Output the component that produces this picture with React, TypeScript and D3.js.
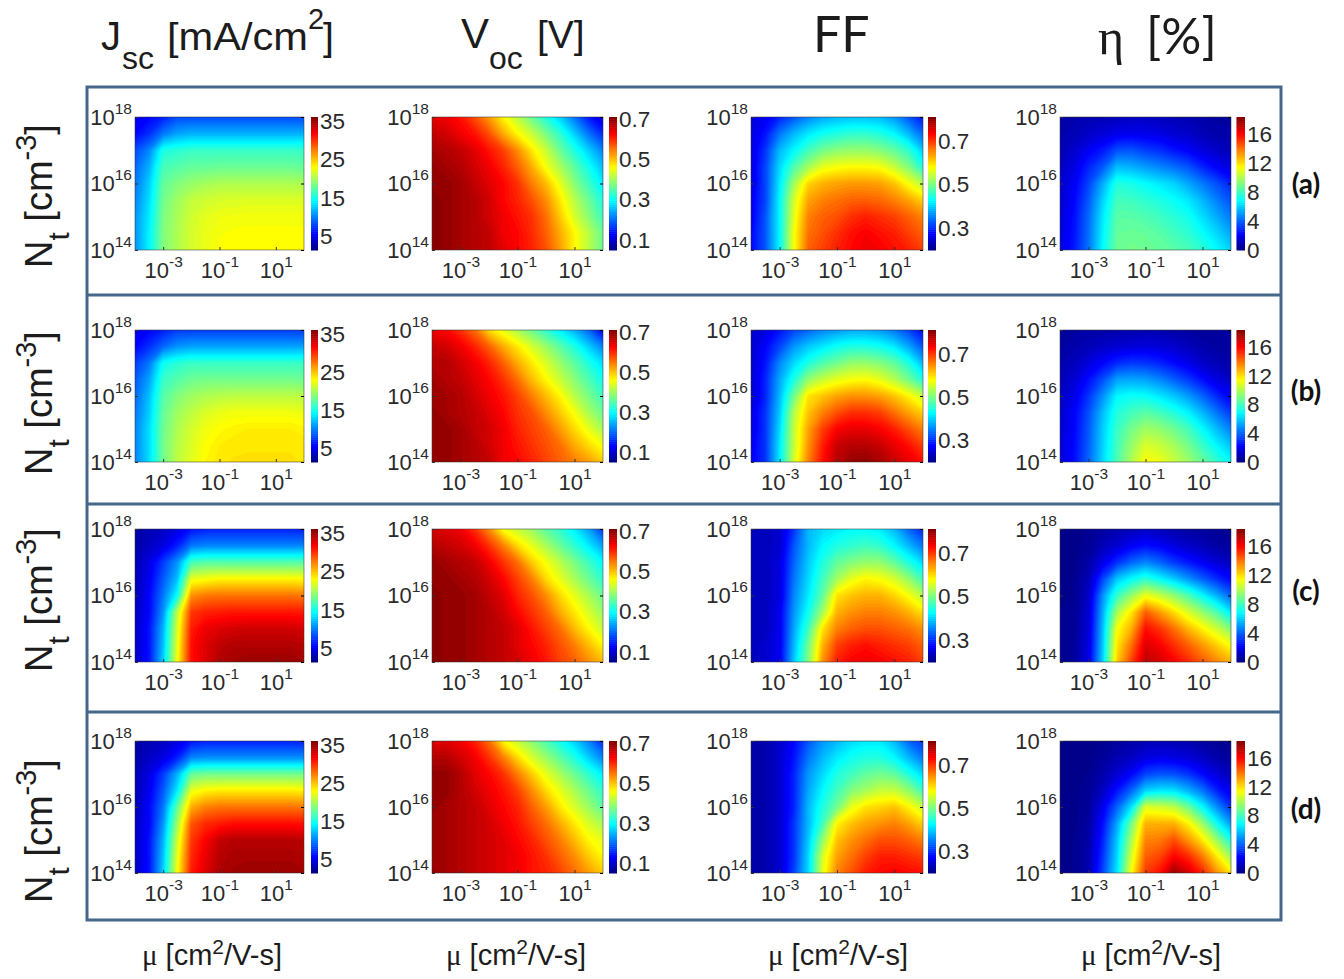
import React, { useEffect, useRef } from "react";
import * as d3 from "d3";

// rows run from Nt = 1e18 (top) to 1e14 (bottom), columns from mu = 1e-4 to 1e2 in half decades
const jscA = [
  [5.5, 6, 7, 8.5, 8.5, 8.5, 8.5, 8.5, 8.5, 8.5, 8.5, 8.5, 8.5],
  [6, 7.5, 10, 11.5, 12, 12, 12, 12, 12, 12, 12, 12, 12],
  [8.5, 10.5, 15.5, 16, 16.5, 16.5, 16.5, 16.5, 16.5, 16.5, 16.5, 16.5, 16.5],
  [9.5, 12, 17, 17.5, 18, 18, 18.2, 18.2, 18.2, 18.2, 18.2, 18.2, 18],
  [10, 13, 18, 19, 19.7, 20.2, 20.5, 20.5, 20.5, 20.5, 20.5, 20.5, 20.4],
  [10.5, 13.5, 18.5, 20, 21.2, 21.6, 21.9, 22, 22.1, 22.1, 22.1, 22.1, 22.1],
  [11, 14, 18.8, 20.3, 21.6, 22.3, 22.7, 22.8, 22.9, 22.9, 22.9, 22.9, 22.9],
  [11, 14.3, 19, 20.5, 21.8, 22.5, 23, 23.2, 23.2, 23.2, 23.2, 23.2, 23.2],
  [11, 14.3, 19, 20.5, 21.8, 22.5, 23.2, 23.3, 23.3, 23.3, 23.3, 23.3, 23.3],
];
const jscB = [
  [5.5, 6, 7, 8, 8, 8, 8, 8, 8, 8, 8, 8, 8],
  [6, 7.5, 9.5, 11, 11.5, 11.5, 11.5, 11.5, 11.5, 11.5, 11.5, 11.5, 11.5],
  [8, 10, 15, 16, 16.5, 16.5, 16.5, 16.5, 16.5, 16.5, 16.5, 16.5, 16.5],
  [9, 11.5, 16.5, 17.5, 18.3, 18.5, 18.5, 18.5, 18.5, 18.5, 18.5, 18.5, 18.3],
  [9.5, 12.5, 17.5, 19, 20, 20.5, 20.8, 21, 21, 21, 21, 21, 20.8],
  [10, 13, 18, 20, 21, 22, 22.5, 22.8, 22.8, 22.8, 22.8, 22.8, 22.6],
  [10.5, 13.5, 18.3, 20.5, 21.8, 22.8, 23.3, 23.6, 23.8, 23.8, 23.8, 23.8, 23.6],
  [10.5, 13.5, 18.5, 20.8, 22, 23.2, 23.8, 24, 24.1, 24.1, 24.1, 24.1, 24],
  [10.5, 13.5, 18.5, 21, 22.3, 23.4, 24, 24.2, 24.2, 24.2, 24.2, 24.2, 24.1],
];
const jscC = [
  [3, 3.5, 4, 5, 6.5, 7, 7, 7, 7, 7, 7, 7, 7],
  [3, 4, 5, 7, 10, 10.5, 10.5, 10.5, 10.5, 10.5, 10.5, 10.5, 10.5],
  [3.5, 5, 8, 11, 17, 17.5, 17.5, 17.5, 17.5, 17.5, 17.5, 17.5, 17.5],
  [3.5, 5.5, 9, 12.5, 22.5, 23, 23.5, 23.5, 23.5, 23.5, 23.5, 23.5, 23.3],
  [3.5, 6, 10, 15, 27, 27.8, 28, 28, 28, 28, 28, 28, 27.8],
  [4, 6, 11, 21, 30, 30.8, 31, 31.2, 31.2, 31.2, 31.2, 31.2, 31],
  [4, 6.5, 12, 22, 31, 32.5, 33, 33.3, 33.5, 33.5, 33.5, 33.5, 33.3],
  [4, 6.5, 12.5, 22.5, 31.5, 33, 34, 34.5, 34.5, 34.5, 34.5, 34.5, 34.3],
  [4, 6.5, 13, 23, 31.5, 33, 34.5, 35, 35.3, 35.3, 35.3, 35.3, 35],
];
const jscD = [
  [3, 3.5, 4, 5, 6.5, 7, 7, 7, 7, 7, 7, 7, 7],
  [3, 4, 5, 7, 10.5, 10.8, 10.8, 10.8, 10.8, 10.8, 10.8, 10.8, 10.8],
  [3.5, 5, 8, 12, 18, 18.5, 18.5, 18.5, 18.5, 18.5, 18.5, 18.5, 18.5],
  [3.5, 5.5, 9, 14, 22.5, 23.5, 23.8, 23.8, 23.8, 23.8, 23.8, 23.8, 23.6],
  [3.5, 6, 10, 18, 26, 27.5, 28, 28, 28, 28, 28, 28, 27.8],
  [4, 6, 11, 20, 29, 30.5, 31, 31.5, 31.5, 31.5, 31.5, 31.5, 31.3],
  [4, 6.5, 12, 21.5, 30, 32, 33.8, 34.3, 34.3, 34.3, 34.3, 34.3, 34.2],
  [4, 6.5, 12.5, 22.5, 30.5, 32.5, 34.3, 34.8, 34.8, 34.8, 34.8, 34.8, 34.6],
  [4, 6.5, 13, 23, 31, 33, 34.6, 35, 35.2, 35.2, 35.2, 35.2, 35],
];

const vocA = [
  [0.65, 0.64, 0.62, 0.58, 0.53, 0.47, 0.42, 0.37, 0.32, 0.27, 0.21, 0.15, 0.11],
  [0.67, 0.66, 0.64, 0.62, 0.58, 0.52, 0.47, 0.43, 0.38, 0.33, 0.27, 0.21, 0.16],
  [0.69, 0.68, 0.67, 0.65, 0.62, 0.59, 0.54, 0.48, 0.43, 0.37, 0.32, 0.27, 0.22],
  [0.7, 0.69, 0.68, 0.66, 0.64, 0.61, 0.57, 0.52, 0.46, 0.41, 0.36, 0.31, 0.26],
  [0.7, 0.7, 0.69, 0.67, 0.65, 0.63, 0.6, 0.55, 0.51, 0.45, 0.39, 0.34, 0.29],
  [0.71, 0.7, 0.69, 0.68, 0.66, 0.63, 0.61, 0.58, 0.54, 0.48, 0.42, 0.37, 0.32],
  [0.71, 0.7, 0.69, 0.68, 0.66, 0.64, 0.62, 0.6, 0.56, 0.5, 0.44, 0.39, 0.34],
  [0.71, 0.7, 0.69, 0.68, 0.67, 0.64, 0.63, 0.605, 0.57, 0.52, 0.47, 0.42, 0.37],
  [0.71, 0.7, 0.69, 0.68, 0.67, 0.65, 0.63, 0.61, 0.58, 0.53, 0.47, 0.42, 0.37],
];
const vocB = [
  [0.64, 0.63, 0.6, 0.56, 0.49, 0.45, 0.41, 0.37, 0.33, 0.29, 0.25, 0.2, 0.13],
  [0.67, 0.66, 0.64, 0.61, 0.57, 0.52, 0.48, 0.44, 0.4, 0.36, 0.32, 0.27, 0.22],
  [0.68, 0.68, 0.66, 0.64, 0.61, 0.57, 0.52, 0.48, 0.44, 0.4, 0.36, 0.32, 0.28],
  [0.69, 0.68, 0.67, 0.65, 0.63, 0.6, 0.56, 0.51, 0.47, 0.43, 0.39, 0.35, 0.31],
  [0.69, 0.69, 0.68, 0.66, 0.64, 0.62, 0.59, 0.55, 0.51, 0.47, 0.42, 0.38, 0.34],
  [0.7, 0.69, 0.68, 0.67, 0.65, 0.63, 0.6, 0.58, 0.54, 0.5, 0.46, 0.41, 0.37],
  [0.7, 0.7, 0.69, 0.67, 0.66, 0.64, 0.61, 0.59, 0.57, 0.53, 0.49, 0.45, 0.41],
  [0.7, 0.7, 0.69, 0.68, 0.66, 0.64, 0.62, 0.6, 0.58, 0.56, 0.52, 0.49, 0.46],
  [0.7, 0.7, 0.69, 0.68, 0.67, 0.64, 0.63, 0.61, 0.59, 0.57, 0.55, 0.53, 0.5],
];
const vocC = [
  [0.66, 0.65, 0.64, 0.6, 0.54, 0.46, 0.43, 0.4, 0.36, 0.33, 0.29, 0.24, 0.17],
  [0.68, 0.67, 0.66, 0.64, 0.6, 0.55, 0.49, 0.45, 0.41, 0.37, 0.33, 0.29, 0.24],
  [0.7, 0.69, 0.68, 0.67, 0.64, 0.6, 0.56, 0.5, 0.46, 0.42, 0.38, 0.34, 0.3],
  [0.7, 0.7, 0.69, 0.68, 0.66, 0.63, 0.59, 0.55, 0.49, 0.45, 0.41, 0.37, 0.33],
  [0.71, 0.7, 0.7, 0.69, 0.67, 0.65, 0.61, 0.58, 0.54, 0.49, 0.45, 0.41, 0.37],
  [0.71, 0.7, 0.7, 0.69, 0.68, 0.66, 0.63, 0.6, 0.57, 0.52, 0.48, 0.44, 0.4],
  [0.71, 0.7, 0.7, 0.69, 0.68, 0.67, 0.65, 0.62, 0.59, 0.56, 0.51, 0.47, 0.43],
  [0.71, 0.7, 0.7, 0.69, 0.68, 0.67, 0.65, 0.63, 0.61, 0.58, 0.55, 0.51, 0.47],
  [0.71, 0.7, 0.7, 0.69, 0.68, 0.67, 0.66, 0.64, 0.62, 0.59, 0.57, 0.54, 0.51],
];
const vocD = [
  [0.65, 0.65, 0.64, 0.61, 0.56, 0.47, 0.43, 0.39, 0.35, 0.31, 0.27, 0.22, 0.16],
  [0.68, 0.68, 0.66, 0.64, 0.6, 0.55, 0.49, 0.44, 0.4, 0.36, 0.32, 0.27, 0.22],
  [0.7, 0.7, 0.68, 0.65, 0.63, 0.6, 0.55, 0.5, 0.45, 0.41, 0.37, 0.33, 0.29],
  [0.7, 0.7, 0.68, 0.66, 0.64, 0.62, 0.59, 0.54, 0.49, 0.45, 0.41, 0.37, 0.33],
  [0.7, 0.69, 0.68, 0.67, 0.65, 0.63, 0.61, 0.57, 0.53, 0.48, 0.44, 0.4, 0.36],
  [0.69, 0.69, 0.68, 0.67, 0.66, 0.64, 0.62, 0.59, 0.56, 0.52, 0.48, 0.44, 0.41],
  [0.69, 0.69, 0.68, 0.67, 0.66, 0.65, 0.63, 0.61, 0.58, 0.55, 0.51, 0.47, 0.45],
  [0.69, 0.69, 0.68, 0.67, 0.66, 0.65, 0.64, 0.62, 0.6, 0.57, 0.54, 0.5, 0.47],
  [0.7, 0.69, 0.68, 0.67, 0.66, 0.65, 0.64, 0.62, 0.61, 0.59, 0.56, 0.53, 0.5],
];

const ffA = [
  [0.26, 0.27, 0.3, 0.33, 0.36, 0.38, 0.39, 0.395, 0.395, 0.39, 0.37, 0.33, 0.29],
  [0.26, 0.29, 0.35, 0.39, 0.42, 0.44, 0.45, 0.46, 0.46, 0.45, 0.43, 0.39, 0.34],
  [0.26, 0.31, 0.39, 0.43, 0.47, 0.5, 0.515, 0.52, 0.52, 0.51, 0.49, 0.46, 0.4],
  [0.26, 0.32, 0.41, 0.48, 0.53, 0.57, 0.58, 0.585, 0.585, 0.58, 0.55, 0.51, 0.45],
  [0.26, 0.32, 0.42, 0.53, 0.61, 0.63, 0.64, 0.645, 0.645, 0.64, 0.62, 0.58, 0.54],
  [0.27, 0.32, 0.43, 0.56, 0.64, 0.66, 0.67, 0.68, 0.68, 0.675, 0.66, 0.64, 0.61],
  [0.27, 0.33, 0.43, 0.57, 0.66, 0.68, 0.69, 0.71, 0.72, 0.71, 0.7, 0.68, 0.66],
  [0.28, 0.33, 0.43, 0.58, 0.67, 0.69, 0.71, 0.73, 0.74, 0.73, 0.72, 0.7, 0.68],
  [0.28, 0.33, 0.43, 0.58, 0.68, 0.7, 0.72, 0.735, 0.745, 0.74, 0.73, 0.72, 0.7],
];
const ffB = [
  [0.25, 0.26, 0.29, 0.32, 0.34, 0.36, 0.37, 0.38, 0.38, 0.37, 0.35, 0.32, 0.28],
  [0.25, 0.28, 0.32, 0.37, 0.4, 0.42, 0.44, 0.45, 0.45, 0.44, 0.42, 0.38, 0.33],
  [0.25, 0.29, 0.36, 0.41, 0.45, 0.48, 0.5, 0.52, 0.52, 0.51, 0.49, 0.45, 0.39],
  [0.25, 0.3, 0.38, 0.45, 0.52, 0.55, 0.57, 0.58, 0.585, 0.57, 0.54, 0.5, 0.45],
  [0.25, 0.3, 0.39, 0.5, 0.6, 0.62, 0.64, 0.65, 0.65, 0.64, 0.62, 0.59, 0.55],
  [0.26, 0.31, 0.4, 0.54, 0.62, 0.66, 0.69, 0.71, 0.71, 0.7, 0.67, 0.64, 0.61],
  [0.26, 0.31, 0.41, 0.55, 0.64, 0.7, 0.74, 0.75, 0.75, 0.74, 0.72, 0.69, 0.66],
  [0.27, 0.31, 0.42, 0.55, 0.65, 0.72, 0.77, 0.78, 0.78, 0.77, 0.75, 0.73, 0.7],
  [0.27, 0.31, 0.42, 0.56, 0.66, 0.73, 0.78, 0.8, 0.805, 0.79, 0.77, 0.75, 0.73],
];
const ffC = [
  [0.24, 0.24, 0.25, 0.31, 0.39, 0.41, 0.42, 0.43, 0.43, 0.42, 0.39, 0.34, 0.3],
  [0.24, 0.24, 0.25, 0.33, 0.39, 0.43, 0.45, 0.46, 0.47, 0.46, 0.43, 0.39, 0.35],
  [0.24, 0.24, 0.26, 0.34, 0.4, 0.45, 0.49, 0.51, 0.52, 0.52, 0.49, 0.45, 0.41],
  [0.24, 0.24, 0.26, 0.35, 0.41, 0.47, 0.53, 0.57, 0.59, 0.58, 0.56, 0.52, 0.47],
  [0.24, 0.24, 0.26, 0.36, 0.42, 0.49, 0.6, 0.62, 0.63, 0.63, 0.61, 0.58, 0.54],
  [0.24, 0.24, 0.27, 0.37, 0.44, 0.53, 0.63, 0.65, 0.66, 0.66, 0.65, 0.63, 0.6],
  [0.24, 0.24, 0.27, 0.38, 0.47, 0.6, 0.66, 0.68, 0.69, 0.69, 0.68, 0.67, 0.65],
  [0.24, 0.25, 0.27, 0.39, 0.5, 0.63, 0.7, 0.72, 0.73, 0.72, 0.71, 0.7, 0.68],
  [0.24, 0.25, 0.27, 0.4, 0.51, 0.65, 0.72, 0.74, 0.745, 0.74, 0.73, 0.72, 0.7],
];
const ffD = [
  [0.23, 0.23, 0.25, 0.28, 0.33, 0.37, 0.39, 0.41, 0.42, 0.42, 0.39, 0.34, 0.31],
  [0.23, 0.23, 0.25, 0.29, 0.35, 0.39, 0.42, 0.44, 0.45, 0.45, 0.43, 0.39, 0.35],
  [0.23, 0.23, 0.25, 0.3, 0.37, 0.41, 0.45, 0.47, 0.49, 0.5, 0.49, 0.45, 0.41],
  [0.23, 0.23, 0.25, 0.3, 0.38, 0.43, 0.47, 0.51, 0.53, 0.55, 0.55, 0.52, 0.47],
  [0.23, 0.23, 0.25, 0.3, 0.39, 0.45, 0.5, 0.57, 0.6, 0.61, 0.62, 0.59, 0.55],
  [0.23, 0.23, 0.25, 0.31, 0.39, 0.47, 0.59, 0.62, 0.64, 0.65, 0.66, 0.64, 0.61],
  [0.23, 0.23, 0.25, 0.31, 0.4, 0.52, 0.62, 0.65, 0.67, 0.69, 0.69, 0.68, 0.66],
  [0.23, 0.23, 0.25, 0.31, 0.41, 0.56, 0.64, 0.67, 0.7, 0.72, 0.72, 0.71, 0.7],
  [0.23, 0.23, 0.25, 0.32, 0.41, 0.57, 0.66, 0.69, 0.72, 0.735, 0.74, 0.735, 0.73],
];

const etaA = [
  [0.8, 0.9, 1, 1.1, 1.2, 1.3, 1.3, 1.2, 1.1, 1, 0.8, 0.7, 0.7],
  [0.9, 1.1, 1.4, 1.7, 2, 2.1, 2, 1.9, 1.6, 1.4, 1.1, 0.9, 0.8],
  [1, 1.5, 2.2, 2.8, 3.8, 3.9, 3.5, 3.2, 2.7, 2.3, 1.8, 1.4, 1.1],
  [1.3, 1.9, 3, 4, 5.8, 5.6, 5.2, 4.8, 4.4, 3.9, 3, 2.3, 1.7],
  [1.5, 2.2, 3.6, 5.5, 7.6, 7.4, 7, 6.6, 6.2, 5.4, 4.6, 3.8, 3],
  [1.6, 2.4, 4, 6.2, 8.2, 8.1, 7.8, 7.5, 7.1, 6.6, 5.7, 4.7, 3.8],
  [1.7, 2.6, 4.3, 6.6, 8.6, 8.6, 8.4, 8.1, 7.7, 7.3, 6.4, 5.5, 4.6],
  [1.8, 2.7, 4.4, 6.8, 8.8, 8.9, 8.8, 8.6, 8.2, 7.8, 7.1, 6.3, 5.4],
  [1.8, 2.8, 4.5, 7, 8.9, 9.1, 9, 8.8, 8.6, 8.3, 7.8, 7, 6.2],
];
const etaB = [
  [0.6, 0.7, 0.8, 0.8, 0.9, 0.9, 1, 0.9, 0.8, 0.7, 0.6, 0.6, 0.6],
  [0.7, 0.9, 1.1, 1.4, 1.6, 1.7, 1.8, 1.7, 1.5, 1.2, 0.9, 0.7, 0.6],
  [0.9, 1.2, 1.8, 2.4, 3.1, 3.4, 3.3, 3, 2.5, 2, 1.4, 1.1, 0.8],
  [1.1, 1.6, 2.6, 3.8, 5.3, 5.4, 5.3, 4.8, 4.1, 3.4, 2.6, 1.8, 1.3],
  [1.3, 2, 3.3, 5, 6.9, 7.2, 7.1, 6.6, 6, 5.2, 4.2, 3.1, 2.2],
  [1.5, 2.3, 3.8, 5.8, 7.6, 8.2, 8.6, 8.2, 7.6, 6.8, 5.7, 4.5, 3.4],
  [1.6, 2.4, 4, 6.1, 8, 9.1, 9.9, 9.6, 9, 8.2, 7, 5.8, 4.7],
  [1.7, 2.5, 4.1, 6.2, 8.2, 9.7, 10.9, 10.6, 10, 9.1, 8, 6.9, 5.9],
  [1.7, 2.6, 4.2, 6.3, 8.4, 10.1, 11.6, 11.3, 10.6, 9.8, 8.9, 7.9, 7],
];
const etaC = [
  [0.2, 0.3, 0.4, 0.7, 0.9, 1.1, 1.3, 1.1, 0.9, 0.7, 0.6, 0.5, 0.4],
  [0.2, 0.3, 0.5, 1.1, 1.6, 2.2, 2.6, 2.3, 1.8, 1.4, 1.1, 0.8, 0.6],
  [0.3, 0.3, 0.8, 2, 3.2, 4.2, 4.8, 4.2, 3.4, 2.8, 2.2, 1.6, 1.2],
  [0.3, 0.4, 1.1, 3.6, 6, 7, 7.8, 7, 6.1, 5.1, 4.1, 3.2, 2.4],
  [0.3, 0.4, 1.4, 5, 8, 9.7, 11.3, 10.6, 9.6, 8.4, 7, 5.6, 4.2],
  [0.4, 0.5, 1.6, 5.5, 10, 12, 14.5, 13.4, 12.2, 10.9, 9.7, 8.4, 6.6],
  [0.4, 0.5, 1.7, 5.8, 11.5, 13, 16, 15.3, 14.2, 12.9, 11.8, 10.7, 9.3],
  [0.4, 0.6, 1.8, 6, 12, 14.2, 16.8, 16.3, 15.4, 14.5, 13.5, 12.5, 11.5],
  [0.5, 0.6, 1.9, 6.2, 12.5, 15, 17.3, 17, 16.3, 15.5, 14.6, 13.8, 13],
];
const etaD = [
  [0.2, 0.2, 0.3, 0.4, 0.6, 0.8, 1, 1.1, 1, 0.9, 0.7, 0.5, 0.4],
  [0.2, 0.2, 0.3, 0.6, 1, 1.3, 1.8, 2, 1.9, 1.7, 1.3, 0.9, 0.6],
  [0.2, 0.3, 0.4, 0.9, 1.6, 2.4, 3.6, 3.9, 3.8, 3.3, 2.5, 1.7, 1.1],
  [0.2, 0.3, 0.5, 1.3, 2.7, 4.2, 6.2, 6.6, 6.5, 5.6, 4.5, 3, 2],
  [0.2, 0.3, 0.6, 2.1, 4.2, 6.5, 11, 10.8, 10.4, 9, 7, 5, 3.3],
  [0.2, 0.3, 0.7, 2.6, 5.4, 9, 13, 13, 13, 11.8, 9.8, 7.2, 5.2],
  [0.2, 0.4, 0.8, 3, 6, 10, 13.8, 14, 14.8, 13.5, 12, 9.8, 7.4],
  [0.3, 0.4, 0.9, 3.3, 6.3, 10.8, 14.5, 15, 16.2, 15.5, 14, 12, 9.8],
  [0.3, 0.4, 1, 3.6, 6.6, 11.5, 15.2, 16, 18, 17, 15.6, 13.6, 12],
];

const muTicks = [1e-3, 1e-1, 1e1];
const ntTicks = [1e14, 1e16, 1e18];
const jscTicks = [5, 15, 25, 35];
const vocTicks = [0.1, 0.3, 0.5, 0.7];
const ffTicks = [0.3, 0.5, 0.7];
const etaTicks = [0, 4, 8, 12, 16];
const rowNames = ["(a)", "(b)", "(c)", "(d)"];

const metrics = [
  { grids: [jscA, jscB, jscC, jscD], domain: [1.5, 36], ticks: jscTicks, fmt: "d" },
  { grids: [vocA, vocB, vocC, vocD], domain: [0.05, 0.71], ticks: vocTicks, fmt: ".1f" },
  { grids: [ffA, ffB, ffC, ffD], domain: [0.2, 0.81], ticks: ffTicks, fmt: ".1f" },
  { grids: [etaA, etaB, etaC, etaD], domain: [0, 18.4], ticks: etaTicks, fmt: "d" },
];

// layout
const colBoxes = [
  { l: 135, r: 304, cl: 311, cr: 318 },
  { l: 432, r: 603, cl: 609, cr: 617 },
  { l: 751, r: 923, cl: 928, cr: 936 },
  { l: 1060, r: 1231, cl: 1236.5, cr: 1245 },
];
const rowBoxes = [
  { t: 117, b: 250 },
  { t: 330, b: 462 },
  { t: 529, b: 662 },
  { t: 741, b: 873 },
];
const labelY = [185, 392, 592, 810];
const ntLabelBottom = [268, 475, 672, 903];
const muLabelX = [142, 446, 768, 1081];
const frameLines = [87, 295, 504, 712, 920];

const sans = "'Liberation Sans', Arial, sans-serif";
const inkColor = "#2a2a2a";
const LEVELS = 96;

const jet = d3
  .scaleLinear<string>()
  .domain([0, 0.125, 0.375, 0.625, 0.875, 1])
  .range(["#00007f", "#0000ff", "#00ffff", "#ffff00", "#ff0000", "#7f0000"])
  .clamp(true);

function powerLabels(sel: any) {
  sel.selectAll(".tick text").each(function (this: any, d: any) {
    const t = d3.select(this);
    t.text("10");
    t.append("tspan")
      .attr("dy", -11)
      .attr("font-size", 15.5)
      .text(Math.round(Math.log10(d)));
  });
}

function drawPanel(root: any, c: number, r: number) {
  const m = metrics[c];
  const box = colBoxes[c];
  const row = rowBoxes[r];
  const grid = m.grids[r];
  const nRows = grid.length;
  const nCols = grid[0].length;
  const g = root.append("g");
  const clipId = `clip-${c}-${r}`;

  const x = d3.scaleLog().domain([1e-4, 1e2]).range([box.l, box.r]);
  const y = d3.scaleLog().domain([1e14, 1e18]).range([row.b, row.t]);
  const colorT = d3.scaleLinear().domain(m.domain).range([0, 1]);

  // contour coords have the grid value at index + 0.5
  const cx = d3.scaleLinear().domain([0.5, nCols - 0.5]).range([box.l, box.r]);
  const cy = d3.scaleLinear().domain([0.5, nRows - 0.5]).range([row.t, row.b]);
  const path = d3.geoPath(
    d3.geoTransform({
      point(px: number, py: number) {
        (this as any).stream.point(cx(px), cy(py));
      },
    })
  );

  g.append("clipPath")
    .attr("id", clipId)
    .append("rect")
    .attr("x", box.l)
    .attr("y", row.t)
    .attr("width", box.r - box.l)
    .attr("height", row.b - row.t);

  const levels = d3.range(LEVELS).map((i) => m.domain[0] + ((i + 1) / LEVELS) * (m.domain[1] - m.domain[0]));
  const contours = d3.contours().size([nCols, nRows]).thresholds(levels)(grid.flat());

  const heat = g.append("g").attr("clip-path", `url(#${clipId})`);
  heat.append("rect")
    .attr("x", box.l)
    .attr("y", row.t)
    .attr("width", box.r - box.l)
    .attr("height", row.b - row.t)
    .attr("fill", jet(0));
  heat.selectAll("path")
    .data(contours)
    .join("path")
    .attr("d", (d: any) => path(d))
    .attr("fill", (d: any) => jet(colorT(d.value)));

  // box
  g.append("rect")
    .attr("x", box.l)
    .attr("y", row.t)
    .attr("width", box.r - box.l)
    .attr("height", row.b - row.t)
    .attr("fill", "none")
    .attr("stroke", "#333")
    .attr("stroke-width", 0.7)
    .attr("stroke-opacity", 0.75);

  // X axis
  const ax = g
    .append("g")
    .attr("transform", `translate(0,${row.b})`)
    .call(d3.axisBottom(x).tickValues(muTicks).tickSize(-3).tickPadding(12));
  // Y axis
  const ay = g
    .append("g")
    .attr("transform", `translate(${box.l},0)`)
    .call(d3.axisLeft(y).tickValues(ntTicks).tickSize(-3).tickPadding(3));
  // right side ticks only
  g.append("g")
    .attr("transform", `translate(${box.r},0)`)
    .call(d3.axisRight(y).tickValues(ntTicks).tickSize(-3).tickFormat(() => ""))
    .call((s: any) => s.select(".domain").remove());
  [ax, ay].forEach((a: any) => {
    a.select(".domain").remove();
    a.attr("font-family", sans).attr("font-size", 22);
    a.selectAll("line").attr("stroke", "#333");
    a.selectAll("text").attr("fill", inkColor);
    a.call(powerLabels);
  });

  // colorbar
  const barY = d3.scaleLinear().domain(m.domain).range([row.b, row.t]);
  const step = (m.domain[1] - m.domain[0]) / 64;
  g.append("g")
    .selectAll("rect")
    .data(d3.range(64))
    .join("rect")
    .attr("x", box.cl)
    .attr("width", box.cr - box.cl)
    .attr("y", (i: number) => barY(m.domain[0] + (i + 1) * step))
    .attr("height", (i: number) => barY(m.domain[0] + i * step) - barY(m.domain[0] + (i + 1) * step) + 0.5)
    .attr("fill", (i: number) => jet((i + 0.5) / 64));
  const ac = g
    .append("g")
    .attr("transform", `translate(${box.cr},0)`)
    .call(d3.axisRight(barY).tickValues(m.ticks).tickSize(0).tickPadding(2).tickFormat(d3.format(m.fmt)));
  ac.select(".domain").remove();
  ac.attr("font-family", sans).attr("font-size", 22.5);
  ac.selectAll("text").attr("fill", inkColor);
}

function App() {
  const ref = useRef<SVGGElement>(null);

  useEffect(() => {
    const root = d3.select(ref.current);
    root.selectAll("*").remove();
    metrics.forEach((_, c) => rowBoxes.forEach((_r, r) => drawPanel(root, c, r)));
  }, []);

  return (
    <svg width={1344} height={979} style={{ position: "absolute", left: 0, top: 0, background: "#fff" }}>
      {/* frame */}
      <g stroke="#44678a" strokeWidth={3} fill="none">
        <rect x={87} y={87} width={1194} height={833} />
        {frameLines.slice(1, 4).map((fy) => (
          <line key={fy} x1={87} x2={1281} y1={fy} y2={fy} />
        ))}
      </g>

      <g ref={ref} />

      {/* column titles */}
      <g fontFamily={sans} fill="#1c1c1c">
        <text x={101} y={50} fontSize={40}>
          J
        </text>
        <text x={122} y={69} fontSize={32}>
          sc
        </text>
        <text x={167} y={50} fontSize={39} textLength={141} lengthAdjust="spacingAndGlyphs">
          [mA/cm
        </text>
        <text x={308} y={29} fontSize={29}>
          2
        </text>
        <text x={323} y={50} fontSize={39}>
          ]
        </text>
        <text x={461} y={48} fontSize={42}>
          V
        </text>
        <text x={489} y={69} fontSize={32}>
          oc
        </text>
        <text x={537} y={48} fontSize={39}>
          [V]
        </text>
      </g>
      <text x={813} y={52} fontFamily="Lato, sans-serif" fontSize={50} fill="#1c1c1c">
        FF
      </text>
      <text x={1098} y={54} fontFamily="'Liberation Serif', serif" fontSize={50} fill="#1c1c1c">
        η
      </text>
      <text x={1146} y={54} fontFamily="Lato, sans-serif" fontSize={50} fill="#1c1c1c">
        [%]
      </text>

      {/* row labels */}
      {ntLabelBottom.map((by) => (
        <text key={by} transform={`translate(52,${by}) rotate(-90)`} fontFamily={sans} fontSize={38} fill="#1c1c1c">
          N
          <tspan fontSize={30} dy={17}>
            t
          </tspan>
          <tspan dy={-17}> [cm</tspan>
          <tspan fontSize={29} dy={-16}>
            -3
          </tspan>
          <tspan dy={16}>]</tspan>
        </text>
      ))}

      {/* panel letters */}
      {rowNames.map((name, i) => (
        <text
          key={name}
          x={1306}
          y={labelY[i] + 9}
          textAnchor="middle"
          fontFamily="Lato, sans-serif"
          fontWeight={700}
          fontSize={28}
          fill="#111"
        >
          {name}
        </text>
      ))}

      {/* x labels */}
      {muLabelX.map((lx) => (
        <text key={lx} x={lx} y={965} fontFamily={sans} fontSize={29} fill="#1c1c1c">
          <tspan fontFamily="'Liberation Serif', serif">μ</tspan> [cm
          <tspan fontSize={21} dy={-11}>
            2
          </tspan>
          <tspan dy={11}>/V-s]</tspan>
        </text>
      ))}
    </svg>
  );
}

export default App;
